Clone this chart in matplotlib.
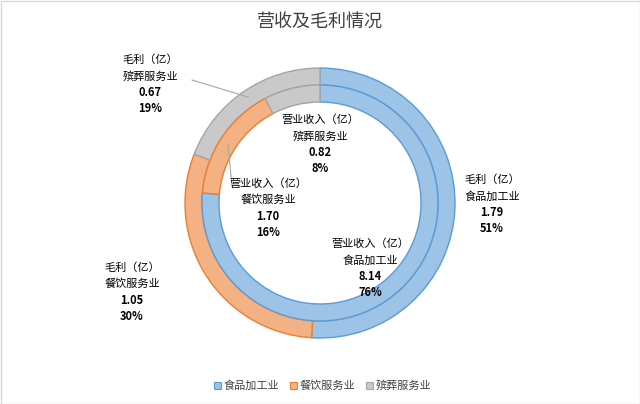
import matplotlib
matplotlib.use("Agg")
import matplotlib.pyplot as plt
from matplotlib.patches import Rectangle

plt.rcParams['font.family'] = ['Noto Sans CJK SC', 'DejaVu Sans']

categories = ['食品加工业', '餐饮服务业', '殡葬服务业']
gross_profit = [1.79, 1.05, 0.67]
gross_pct = ['51%', '30%', '19%']
revenue = [8.14, 1.70, 0.82]
revenue_pct = ['76%', '16%', '8%']
fills = ['#9DC3E6', '#F4B183', '#C9C9C9']
edges = ['#5B9BD5', '#ED7D31', '#A5A5A5']

W, H = 640, 404
fig = plt.figure(figsize=(6.4, 4.04), dpi=100)
ax = fig.add_axes([0, 0, 1, 1])
ax.set_xlim(0, W); ax.set_ylim(0, H); ax.set_aspect('equal'); ax.axis('off')
ax.add_patch(Rectangle((0.5, 0.5), W - 1, H - 1, fill=False, ec='#D9D9D9', lw=1))

cx, cy = 320, H - 203
w1, _ = ax.pie(gross_profit, radius=135, center=(cx, cy), startangle=90, counterclock=False,
               colors=fills, wedgeprops=dict(width=17, linewidth=1))
w2, _ = ax.pie(revenue, radius=118, center=(cx, cy), startangle=90, counterclock=False,
               colors=fills, wedgeprops=dict(width=17, linewidth=1))
for ws in (w1, w2):
    for w, e in zip(ws, edges):
        w.set_edgecolor(e)
ax.set_xlim(0, W); ax.set_ylim(0, H)

def label(x, y, name, cat, val, pct):
    lines = [(f'{name}（亿）', 'normal'), (cat, 'normal'), (f'{val:.2f}', 'bold'), (pct, 'bold')]
    for i, (t, fw) in enumerate(lines):
        ax.text(x, H - (y + i * 16), t, ha='center', va='center', fontsize=8,
                fontweight=fw, color='#000000')

label(150, 60, '毛利', categories[2], gross_profit[2], gross_pct[2])
label(132, 268, '毛利', categories[1], gross_profit[1], gross_pct[1])
label(492, 180, '毛利', categories[0], gross_profit[0], gross_pct[0])
label(320, 120, '营业收入', categories[2], revenue[2], revenue_pct[2])
label(268, 184, '营业收入', categories[1], revenue[1], revenue_pct[1])
label(370, 244, '营业收入', categories[0], revenue[0], revenue_pct[0])

lc = '#A6A6A6'
ax.plot([192, 248], [H - 80, H - 97], color=lc, lw=0.8)
ax.plot([232, 228], [H - 186, H - 145], color=lc, lw=0.8)

ax.text(320, H - 22, '营收及毛利情况', ha='center', va='center', fontsize=13, color='#404040')

lx = [214, 290, 366]
for x, c, e, cat in zip(lx, fills, edges, categories):
    ax.add_patch(Rectangle((x, H - 389), 7, 7, fc=c, ec=e, lw=0.8))
    ax.text(x + 10, H - 385.5, cat, ha='left', va='center', fontsize=8, color='#404040')

fig.savefig('out.png', dpi=100)
